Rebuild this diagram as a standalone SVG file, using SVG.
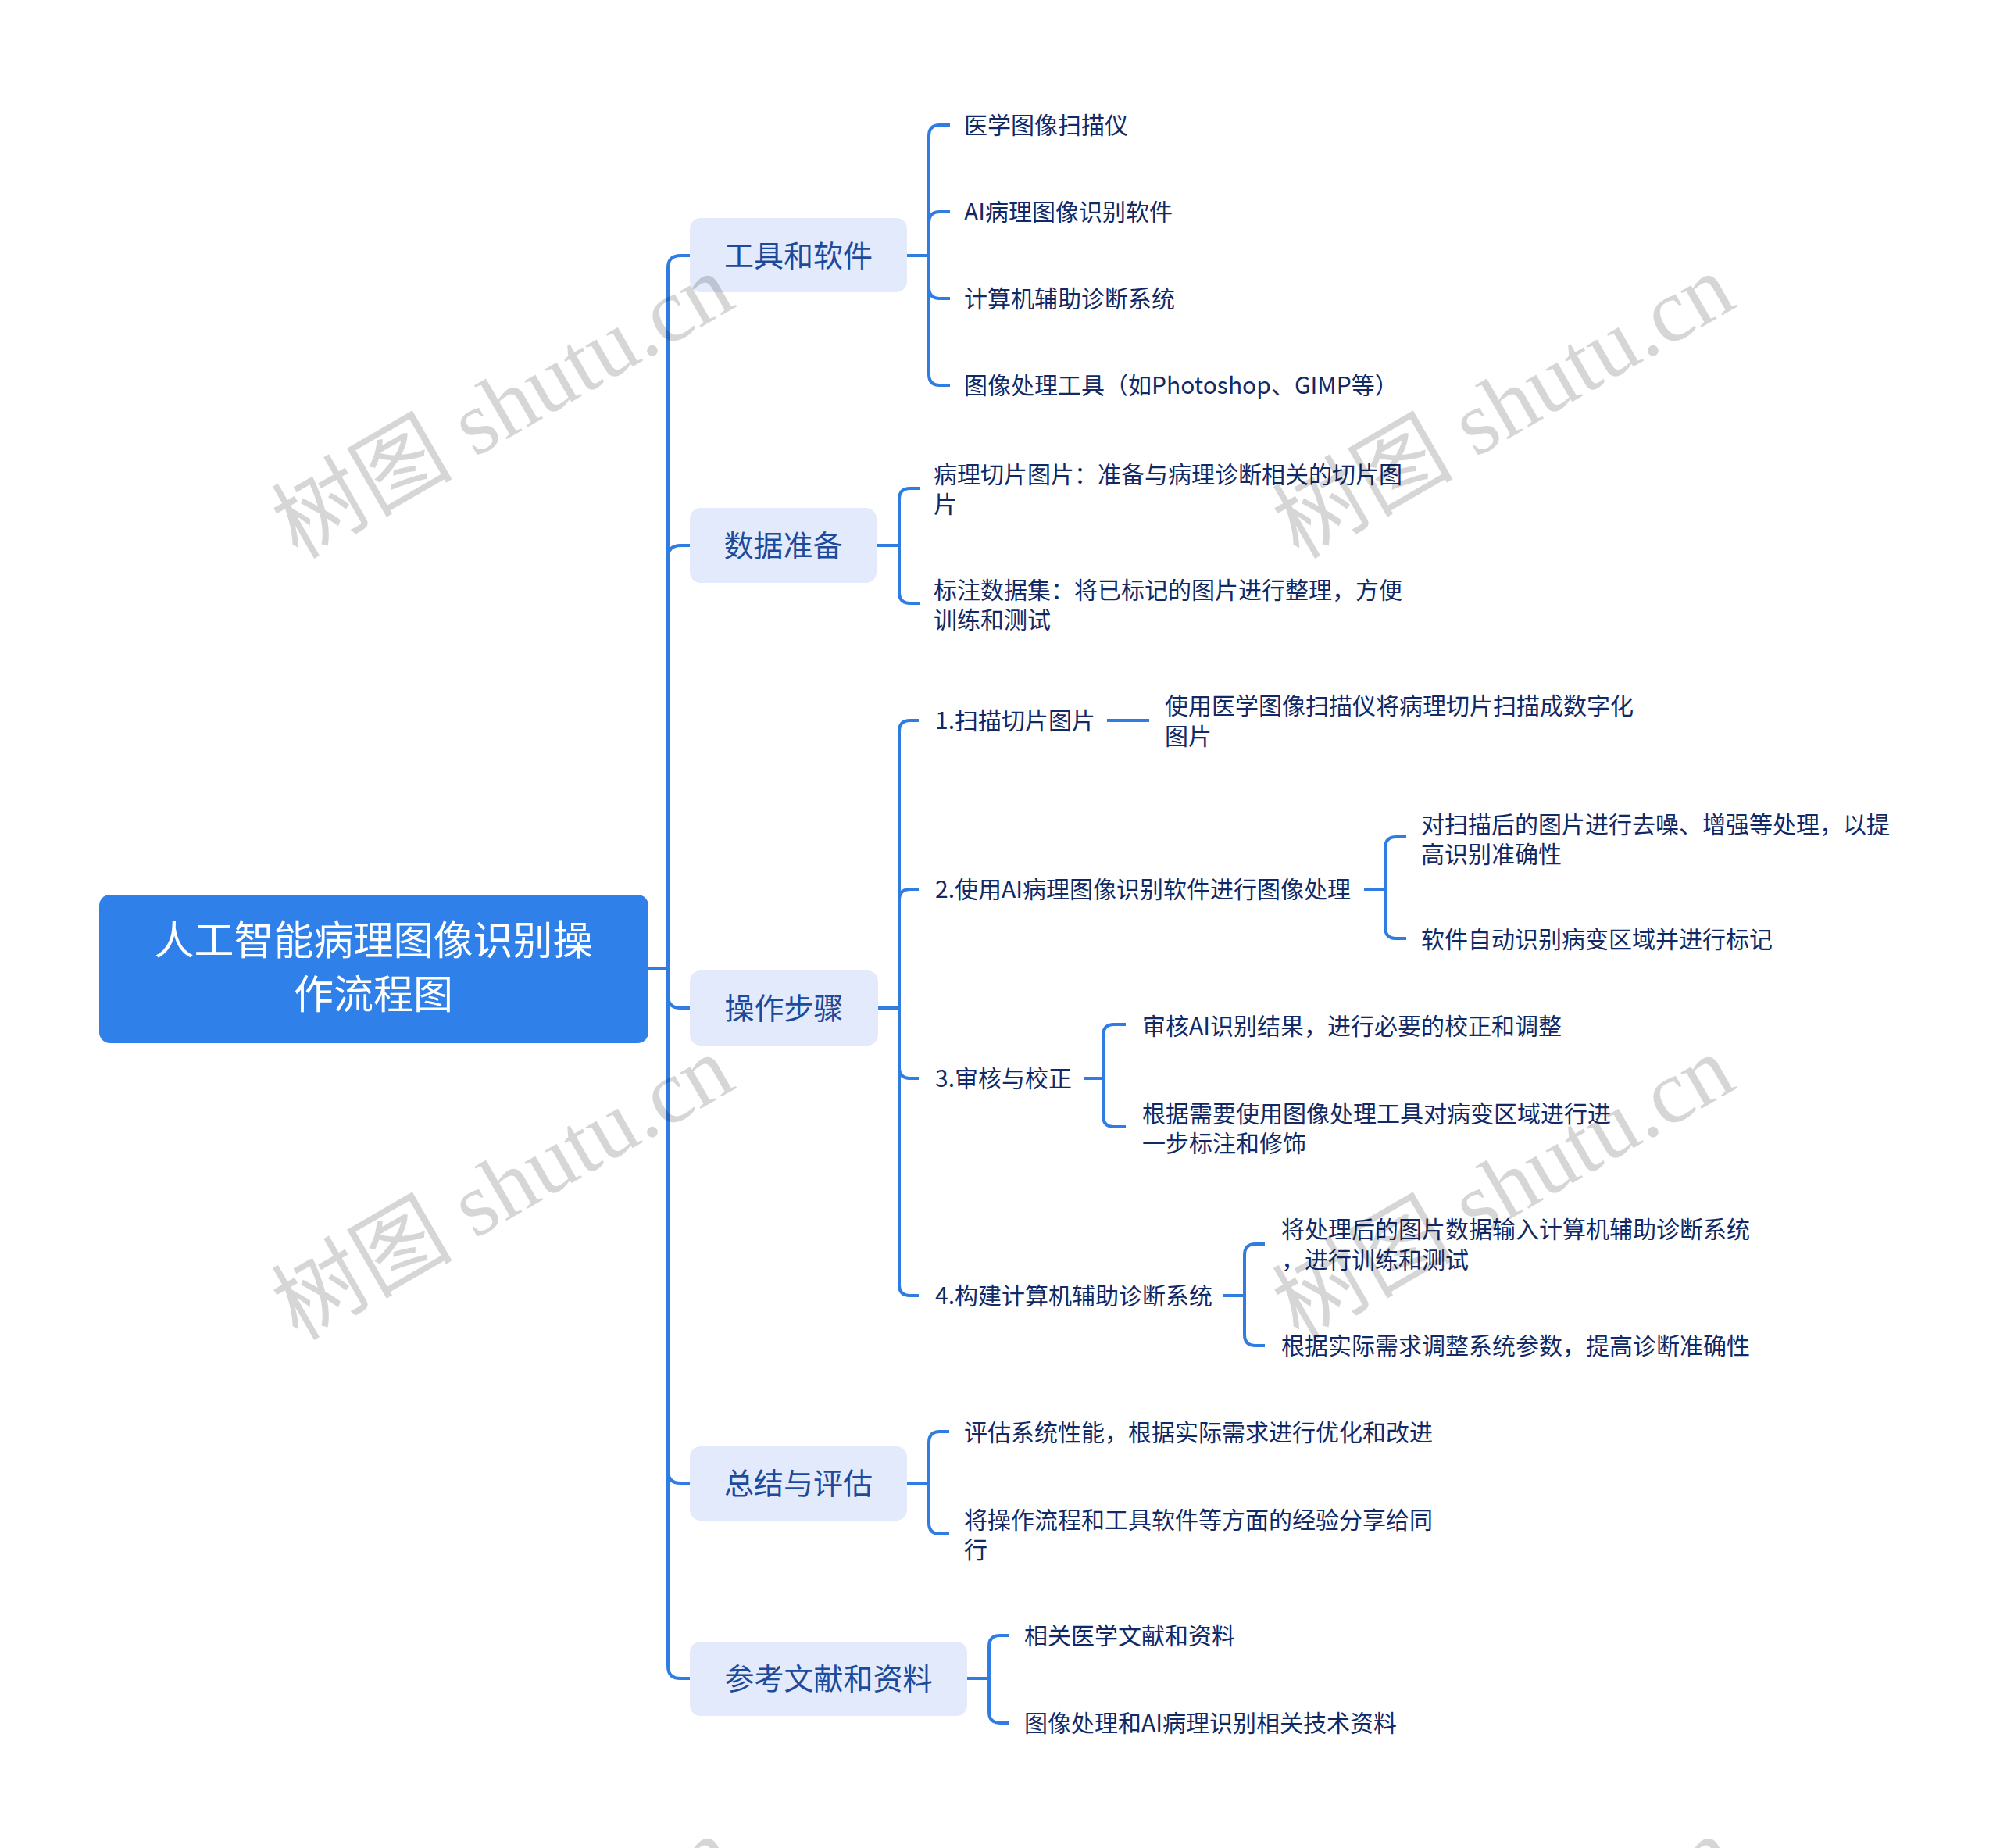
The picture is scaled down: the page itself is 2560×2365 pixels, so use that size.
<svg xmlns="http://www.w3.org/2000/svg" width="2560" height="2365" viewBox="0 0 2560 2365">
<style>
text{font-family:"Noto Sans CJK SC","Noto Sans",sans-serif}
.conn path{fill:none;stroke:#2f7de3;stroke-width:4}
.root rect{fill:#2f80e8}
.root text{fill:#ffffff;font-size:51px;text-anchor:middle}
.l1 rect{fill:#e3eafb}
.l1 text{fill:#1d4b9b;font-size:38px;text-anchor:middle}
.leaf text{fill:#112a66;font-size:30px}
.wm text{font-family:"Liberation Serif","Noto Sans CJK SC",serif;font-size:116px;fill:#000;fill-opacity:0.16;text-anchor:middle}
</style>
<rect width="2560" height="2365" fill="#ffffff"/>
<g class="conn" id="connectors">
<path d="M830,1240 H855"/>
<path d="M855,1240 V343 Q855,327 871,327 H883"/>
<path d="M855,1240 V714 Q855,698 871,698 H883"/>
<path d="M855,1240 V1274 Q855,1290 871,1290 H883"/>
<path d="M855,1240 V1882 Q855,1898 871,1898 H883"/>
<path d="M855,1240 V2132 Q855,2148 871,2148 H883"/>
<path d="M1161,327 H1189"/>
<path d="M1189,327 V174 Q1189,160 1203,160 H1216"/>
<path d="M1189,327 V285 Q1189,271 1203,271 H1216"/>
<path d="M1189,327 V368 Q1189,382 1203,382 H1216"/>
<path d="M1189,327 V479 Q1189,493 1203,493 H1216"/>
<path d="M1122,698 H1151"/>
<path d="M1151,698 V639 Q1151,625 1165,625 H1177"/>
<path d="M1151,698 V758 Q1151,772 1165,772 H1177"/>
<path d="M1124,1290 H1151"/>
<path d="M1151,1290 V936 Q1151,922 1165,922 H1176"/>
<path d="M1151,1290 V1152 Q1151,1138 1165,1138 H1176"/>
<path d="M1151,1290 V1366 Q1151,1380 1165,1380 H1176"/>
<path d="M1151,1290 V1644 Q1151,1658 1165,1658 H1176"/>
<path d="M1417,922 H1471"/>
<path d="M1746,1138 H1773"/>
<path d="M1773,1138 V1085 Q1773,1071 1787,1071 H1800"/>
<path d="M1773,1138 V1187 Q1773,1201 1787,1201 H1800"/>
<path d="M1387,1380 H1412"/>
<path d="M1412,1380 V1325 Q1412,1311 1426,1311 H1441"/>
<path d="M1412,1380 V1428 Q1412,1442 1426,1442 H1441"/>
<path d="M1566,1658 H1593"/>
<path d="M1593,1658 V1606 Q1593,1592 1607,1592 H1619"/>
<path d="M1593,1658 V1708 Q1593,1722 1607,1722 H1619"/>
<path d="M1161,1898 H1189"/>
<path d="M1189,1898 V1846 Q1189,1832 1203,1832 H1215"/>
<path d="M1189,1898 V1949 Q1189,1963 1203,1963 H1215"/>
<path d="M1238,2148 H1266"/>
<path d="M1266,2148 V2107 Q1266,2093 1280,2093 H1292"/>
<path d="M1266,2148 V2191 Q1266,2205 1280,2205 H1292"/>
</g>
<g class="root" id="root">
<rect x="127" y="1145" width="703" height="190" rx="14"/>
<text x="478" y="1222">人工智能病理图像识别操</text>
<text x="478" y="1291">作流程图</text>
</g>
<g class="l1" id="tools"><rect x="883" y="279" width="278" height="95" rx="14"/><text x="1022" y="341">工具和软件</text></g>
<g class="l1" id="data"><rect x="883" y="650" width="239" height="96" rx="14"/><text x="1002.5" y="712">数据准备</text></g>
<g class="l1" id="steps"><rect x="883" y="1242" width="241" height="96" rx="14"/><text x="1003.5" y="1304">操作步骤</text></g>
<g class="l1" id="summary"><rect x="883" y="1851" width="278" height="95" rx="14"/><text x="1022" y="1912">总结与评估</text></g>
<g class="l1" id="refs"><rect x="883" y="2101" width="355" height="95" rx="14"/><text x="1060.5" y="2162">参考文献和资料</text></g>
<g class="leaf" id="tools-1"><text x="1234" y="171">医学图像扫描仪</text></g>
<g class="leaf" id="tools-2"><text x="1234" y="282">AI病理图像识别软件</text></g>
<g class="leaf" id="tools-3"><text x="1234" y="393">计算机辅助诊断系统</text></g>
<g class="leaf" id="tools-4"><text x="1234" y="504">图像处理工具（如Photoshop、GIMP等）</text></g>
<g class="leaf" id="data-1"><text x="1195" y="618">病理切片图片：准备与病理诊断相关的切片图</text><text x="1195" y="656">片</text></g>
<g class="leaf" id="data-2"><text x="1195" y="766">标注数据集：将已标记的图片进行整理，方便</text><text x="1195" y="804">训练和测试</text></g>
<g class="leaf" id="step-1"><text x="1197" y="933">1.扫描切片图片</text></g>
<g class="leaf" id="step-1-1"><text x="1491" y="914">使用医学图像扫描仪将病理切片扫描成数字化</text><text x="1491" y="953">图片</text></g>
<g class="leaf" id="step-2"><text x="1197" y="1149">2.使用AI病理图像识别软件进行图像处理</text></g>
<g class="leaf" id="step-2-1"><text x="1819" y="1066">对扫描后的图片进行去噪、增强等处理，以提</text><text x="1819" y="1104">高识别准确性</text></g>
<g class="leaf" id="step-2-2"><text x="1819" y="1213">软件自动识别病变区域并进行标记</text></g>
<g class="leaf" id="step-3"><text x="1197" y="1391">3.审核与校正</text></g>
<g class="leaf" id="step-3-1"><text x="1462" y="1324">审核AI识别结果，进行必要的校正和调整</text></g>
<g class="leaf" id="step-3-2"><text x="1462" y="1436">根据需要使用图像处理工具对病变区域进行进</text><text x="1462" y="1474">一步标注和修饰</text></g>
<g class="leaf" id="step-4"><text x="1197" y="1669">4.构建计算机辅助诊断系统</text></g>
<g class="leaf" id="step-4-1"><text x="1640" y="1584">将处理后的图片数据输入计算机辅助诊断系统</text><text x="1640" y="1623">，进行训练和测试</text></g>
<g class="leaf" id="step-4-2"><text x="1640" y="1733">根据实际需求调整系统参数，提高诊断准确性</text></g>
<g class="leaf" id="summary-1"><text x="1234" y="1844">评估系统性能，根据实际需求进行优化和改进</text></g>
<g class="leaf" id="summary-2"><text x="1234" y="1956">将操作流程和工具软件等方面的经验分享给同</text><text x="1234" y="1994">行</text></g>
<g class="leaf" id="refs-1"><text x="1311" y="2104">相关医学文献和资料</text></g>
<g class="leaf" id="refs-2"><text x="1311" y="2216">图像处理和AI病理识别相关技术资料</text></g>
<g class="wm" id="watermarks">
<text transform="translate(644,521) rotate(-30)" y="38">树图 shutu.cn</text>
<text transform="translate(1925,521) rotate(-30)" y="38">树图 shutu.cn</text>
<text transform="translate(644,1521) rotate(-30)" y="38">树图 shutu.cn</text>
<text transform="translate(1925,1521) rotate(-30)" y="38">树图 shutu.cn</text>
<text transform="translate(644,2521) rotate(-30)" y="38">树图 shutu.cn</text>
<text transform="translate(1925,2521) rotate(-30)" y="38">树图 shutu.cn</text>
</g>
</svg>
